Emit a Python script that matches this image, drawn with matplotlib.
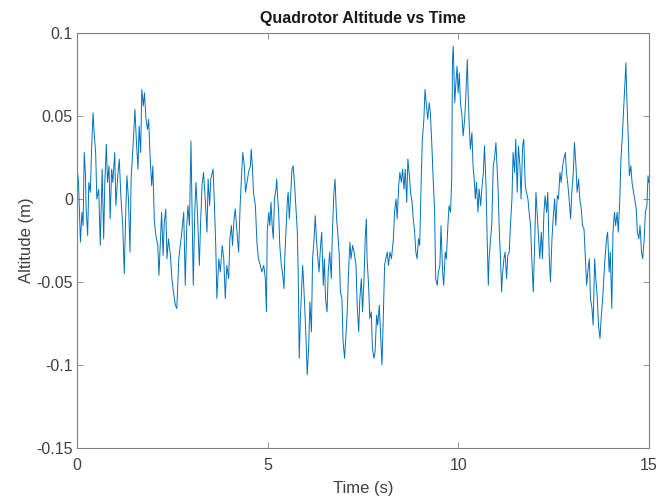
import numpy as np
import matplotlib
matplotlib.use('Agg')
import matplotlib.pyplot as plt

# altitude trace (time in s, altitude in m)
time_s = [
    0.00, 0.04, 0.09, 0.13, 0.16, 0.19, 0.22, 0.24, 0.28, 0.31, 0.35, 0.38, 0.42, 0.45, 0.49,
    0.52, 0.57, 0.61, 0.66, 0.70, 0.73, 0.77, 0.80, 0.84, 0.87, 0.91, 0.94, 0.99, 1.02, 1.07,
    1.11, 1.15, 1.20, 1.24, 1.28, 1.31, 1.35, 1.39, 1.42, 1.46, 1.49, 1.52, 1.56, 1.60, 1.63,
    1.67, 1.70, 1.74, 1.77, 1.81, 1.85, 1.88, 1.92, 1.96, 1.99, 2.03, 2.07, 2.12, 2.15, 2.19,
    2.22, 2.26, 2.29, 2.33, 2.36, 2.40, 2.45, 2.49, 2.53, 2.58, 2.62, 2.67, 2.71, 2.75, 2.80,
    2.84, 2.88, 2.91, 2.95, 2.97, 2.99, 3.02, 3.05, 3.09, 3.12, 3.16, 3.21, 3.24, 3.28, 3.32,
    3.37, 3.41, 3.44, 3.48, 3.51, 3.57, 3.60, 3.64, 3.67, 3.72, 3.76, 3.81, 3.85, 3.89, 3.93,
    3.98, 4.01, 4.05, 4.08, 4.12, 4.15, 4.20, 4.24, 4.28, 4.32, 4.35, 4.39, 4.42, 4.46, 4.50,
    4.55, 4.57, 4.60, 4.63, 4.68, 4.72, 4.76, 4.81, 4.85, 4.90, 4.94, 4.97,
    4.99, 5.03, 5.06, 5.09, 5.12, 5.15, 5.18, 5.22, 5.24, 5.26, 5.29, 5.32, 5.36, 5.39, 5.43,
    5.45, 5.49, 5.52, 5.54, 5.57, 5.60, 5.64, 5.67, 5.71, 5.74, 5.78, 5.80, 5.83, 5.86, 5.89,
    5.92, 5.94, 5.98, 6.01, 6.04, 6.08, 6.11, 6.15, 6.18, 6.22, 6.25, 6.28, 6.32, 6.35, 6.39,
    6.42, 6.46, 6.49, 6.52, 6.56, 6.59, 6.63, 6.67, 6.70, 6.74, 6.77, 6.81, 6.84, 6.88, 6.91,
    6.95, 6.98, 7.02, 7.05, 7.09, 7.12, 7.16, 7.19, 7.23, 7.27, 7.32, 7.35, 7.39, 7.42, 7.46,
    7.49, 7.53, 7.56, 7.59, 7.61, 7.65, 7.68, 7.72, 7.75, 7.79, 7.82, 7.86, 7.89, 7.93, 7.96,
    8.00, 8.03, 8.07, 8.10, 8.14, 8.17, 8.21, 8.25, 8.30, 8.33, 8.37, 8.40, 8.44, 8.47, 8.51,
    8.54, 8.58, 8.61, 8.65, 8.68, 8.72, 8.75, 8.79, 8.82, 8.85, 8.89, 8.92, 8.96, 8.99, 9.03,
    9.06, 9.10, 9.13, 9.17, 9.20, 9.24, 9.27, 9.31, 9.34, 9.38, 9.41, 9.45, 9.48, 9.52, 9.55,
    9.59, 9.62, 9.66, 9.69, 9.73, 9.76, 9.80, 9.83, 9.85, 9.87,
    9.91, 9.94, 9.97, 10.00, 10.03, 10.06, 10.10, 10.13, 10.17, 10.20, 10.24, 10.26, 10.29,
    10.32, 10.36, 10.39, 10.42, 10.45, 10.48, 10.52, 10.55, 10.59, 10.62, 10.66, 10.69, 10.73,
    10.76, 10.79, 10.81, 10.85, 10.88, 10.92, 10.95, 10.99, 11.01, 11.05, 11.08, 11.11, 11.14,
    11.16, 11.20, 11.23, 11.27, 11.30, 11.34, 11.37, 11.41, 11.44, 11.48, 11.51, 11.55, 11.58,
    11.62, 11.65, 11.69, 11.72, 11.76, 11.79, 11.83, 11.86, 11.90, 11.93, 11.97, 12.00, 12.04,
    12.07, 12.11, 12.14, 12.18, 12.21, 12.25, 12.28, 12.32, 12.35, 12.39, 12.42, 12.46, 12.49,
    12.53, 12.56, 12.60, 12.63, 12.67, 12.70, 12.74, 12.77, 12.81, 12.84, 12.88, 12.91, 12.95,
    12.98, 13.02, 13.05, 13.09, 13.12, 13.16, 13.19, 13.23, 13.26, 13.30, 13.33, 13.37, 13.40,
    13.44, 13.47, 13.51, 13.54, 13.58, 13.61, 13.65, 13.68, 13.72, 13.75, 13.79, 13.82, 13.85,
    13.89, 13.92, 13.96, 13.99, 14.03, 14.06, 14.10, 14.13, 14.17, 14.20, 14.24, 14.27, 14.31,
    14.34, 14.38, 14.40, 14.42, 14.46, 14.49, 14.53, 14.56, 14.60, 14.63, 14.67, 14.70, 14.74,
    14.77, 14.81, 14.84, 14.88, 14.91, 14.95, 14.98, 15.00,
]
altitude_m = [
    0.020, 0.010, -0.026, -0.008, -0.016, 0.028, 0.016, -0.006, -0.022, 0.010, 0.004, 0.028, 0.052, 0.040, 0.028,
    0.000, 0.006, -0.028, 0.018, -0.024, 0.010, 0.033, 0.010, 0.020, -0.012, 0.018, 0.010, 0.028, -0.004, 0.014,
    0.024, 0.002, -0.016, -0.045, -0.008, 0.014, 0.000, -0.032, 0.012, 0.028, 0.040, 0.054, 0.034, 0.018, 0.044,
    0.028, 0.066, 0.056, 0.064, 0.048, 0.042, 0.048, 0.024, 0.008, 0.020, -0.014, -0.022, -0.028, -0.046, -0.024,
    -0.008, -0.034, -0.014, -0.006, -0.036, -0.024, -0.034, -0.048, -0.056, -0.064, -0.066, -0.036, -0.028, -0.020, -0.008,
    -0.052, -0.016, -0.004, -0.016, 0.010, 0.035, -0.008, -0.052, -0.008, 0.010, -0.008, -0.040, -0.016, 0.008, 0.016,
    -0.002, -0.020, 0.012, -0.004, 0.012, 0.018, 0.000, -0.028, -0.060, -0.036, -0.044, -0.028, -0.036, -0.060, -0.040,
    -0.048, -0.024, -0.016, -0.028, -0.012, -0.006, -0.020, -0.032, -0.004, 0.016, 0.028, 0.020, 0.004, 0.010, 0.016,
    0.020, 0.030, 0.020, 0.004, -0.004, -0.026, -0.036, -0.040, -0.044, -0.040, -0.048, -0.068,
    -0.020, -0.008, -0.016, -0.002, -0.016, -0.024, 0.000, 0.006, 0.012, 0.002, -0.008, -0.028, -0.040, -0.044, -0.054,
    -0.036, -0.016, 0.000, 0.004, -0.012, 0.000, 0.018, 0.020, 0.008, -0.004, -0.020, -0.040, -0.096, -0.072, -0.056,
    -0.040, -0.048, -0.068, -0.086, -0.106, -0.088, -0.062, -0.080, -0.036, -0.024, -0.010, -0.024, -0.036, -0.044, -0.028,
    -0.020, -0.052, -0.036, -0.060, -0.068, -0.044, -0.032, -0.048, -0.020, 0.004, 0.012, -0.012, -0.020, -0.034, -0.056,
    -0.060, -0.086, -0.096, -0.084, -0.068, -0.046, -0.026, -0.036, -0.028, -0.032, -0.040, -0.064, -0.080, -0.060, -0.048,
    -0.068, -0.048, -0.024, -0.012, -0.036, -0.052, -0.072, -0.068, -0.090, -0.096, -0.092, -0.070, -0.076, -0.064, -0.080,
    -0.100, -0.076, -0.040, -0.036, -0.032, -0.040, -0.032, -0.036, -0.024, -0.008, 0.000, -0.012, 0.008, 0.016, 0.010,
    0.018, 0.006, 0.018, -0.002, 0.024, 0.014, 0.004, -0.002, -0.012, -0.018, -0.032, -0.036, -0.024, -0.028, 0.012,
    0.036, 0.048, 0.066, 0.056, 0.048, 0.058, 0.052, 0.032, 0.014, -0.006, -0.048, -0.052, -0.044, -0.040, -0.016,
    -0.044, -0.052, -0.032, -0.036, -0.016, -0.004, -0.008, 0.012, 0.084, 0.092,
    0.058, 0.070, 0.080, 0.064, 0.076, 0.058, 0.050, 0.038, 0.048, 0.062, 0.084, 0.064, 0.044,
    0.030, 0.040, 0.020, 0.012, 0.000, 0.010, -0.008, 0.006, -0.004, 0.006, 0.016, 0.032, 0.008,
    -0.024, -0.052, -0.036, -0.024, -0.016, 0.020, 0.024, 0.034, 0.024, 0.004, -0.020, -0.036, -0.056,
    -0.046, -0.036, -0.032, -0.048, -0.034, -0.032, -0.016, 0.000, 0.028, 0.016, 0.036, 0.004, 0.032,
    0.020, 0.000, 0.032, 0.036, 0.008, 0.004, 0.000, -0.008, -0.016, -0.036, -0.056, -0.032, 0.004,
    -0.008, -0.024, -0.036, -0.020, -0.036, -0.008, 0.002, -0.008, 0.004, -0.036, -0.050, -0.024, -0.012,
    0.000, -0.016, 0.002, 0.000, 0.016, 0.010, 0.020, 0.024, 0.028, 0.016, 0.008, 0.000, -0.012,
    0.004, 0.016, 0.034, 0.020, 0.004, 0.012, 0.000, -0.006, -0.016, -0.018, -0.032, -0.052, -0.044,
    -0.036, -0.060, -0.066, -0.076, -0.036, -0.048, -0.060, -0.076, -0.084, -0.072, -0.060, -0.048, -0.036,
    -0.024, -0.020, -0.044, -0.032, -0.066, -0.020, -0.008, -0.016, -0.008, -0.020, 0.000, 0.024, 0.040,
    0.054, 0.074, 0.082, 0.064, 0.038, 0.014, 0.020, 0.010, 0.004, 0.000, -0.006, -0.020, -0.024,
    -0.016, -0.032, -0.036, -0.024, -0.008, -0.004, 0.014, 0.010,
]

x_ticks = [0, 5, 10, 15]
y_ticks = [-0.15, -0.1, -0.05, 0, 0.05, 0.1]
y_tick_labels = ['-0.15', '-0.1', '-0.05', '0', '0.05', '0.1']

plt.rcParams['font.family'] = ['Liberation Sans', 'DejaVu Sans']
plt.rcParams['axes.unicode_minus'] = False

fig = plt.figure(figsize=(6.58, 5.01), dpi=100)
ax = fig.add_axes([0.117, 0.106, 0.869, 0.828])

ax.plot(time_s, altitude_m, color='#0072BD', linewidth=0.7)

ax.set_xlim(0, 15)
ax.set_ylim(-0.15, 0.1)
ax.set_xticks(x_ticks)
ax.set_xticklabels([str(v) for v in x_ticks])
ax.set_yticks(y_ticks)
ax.set_yticklabels(y_tick_labels)

axis_col = '#404040'
for s in ax.spines.values():
    s.set_color('#808080')
    s.set_linewidth(0.8)
ax.tick_params(direction='in', top=True, right=True, length=4, width=0.6,
               colors='#808080', labelcolor=axis_col, labelsize=11.5, pad=3)
ax.tick_params(axis='x', pad=7)

ax.set_title('Quadrotor Altitude vs Time', fontsize=11.5, fontweight='bold', color='#1a1a1a', pad=7)
ax.set_xlabel('Time (s)', fontsize=12, color=axis_col, labelpad=6)
ax.set_ylabel('Altitude (m)', fontsize=12, color=axis_col, labelpad=2)

fig.savefig('out.png', dpi=100)
